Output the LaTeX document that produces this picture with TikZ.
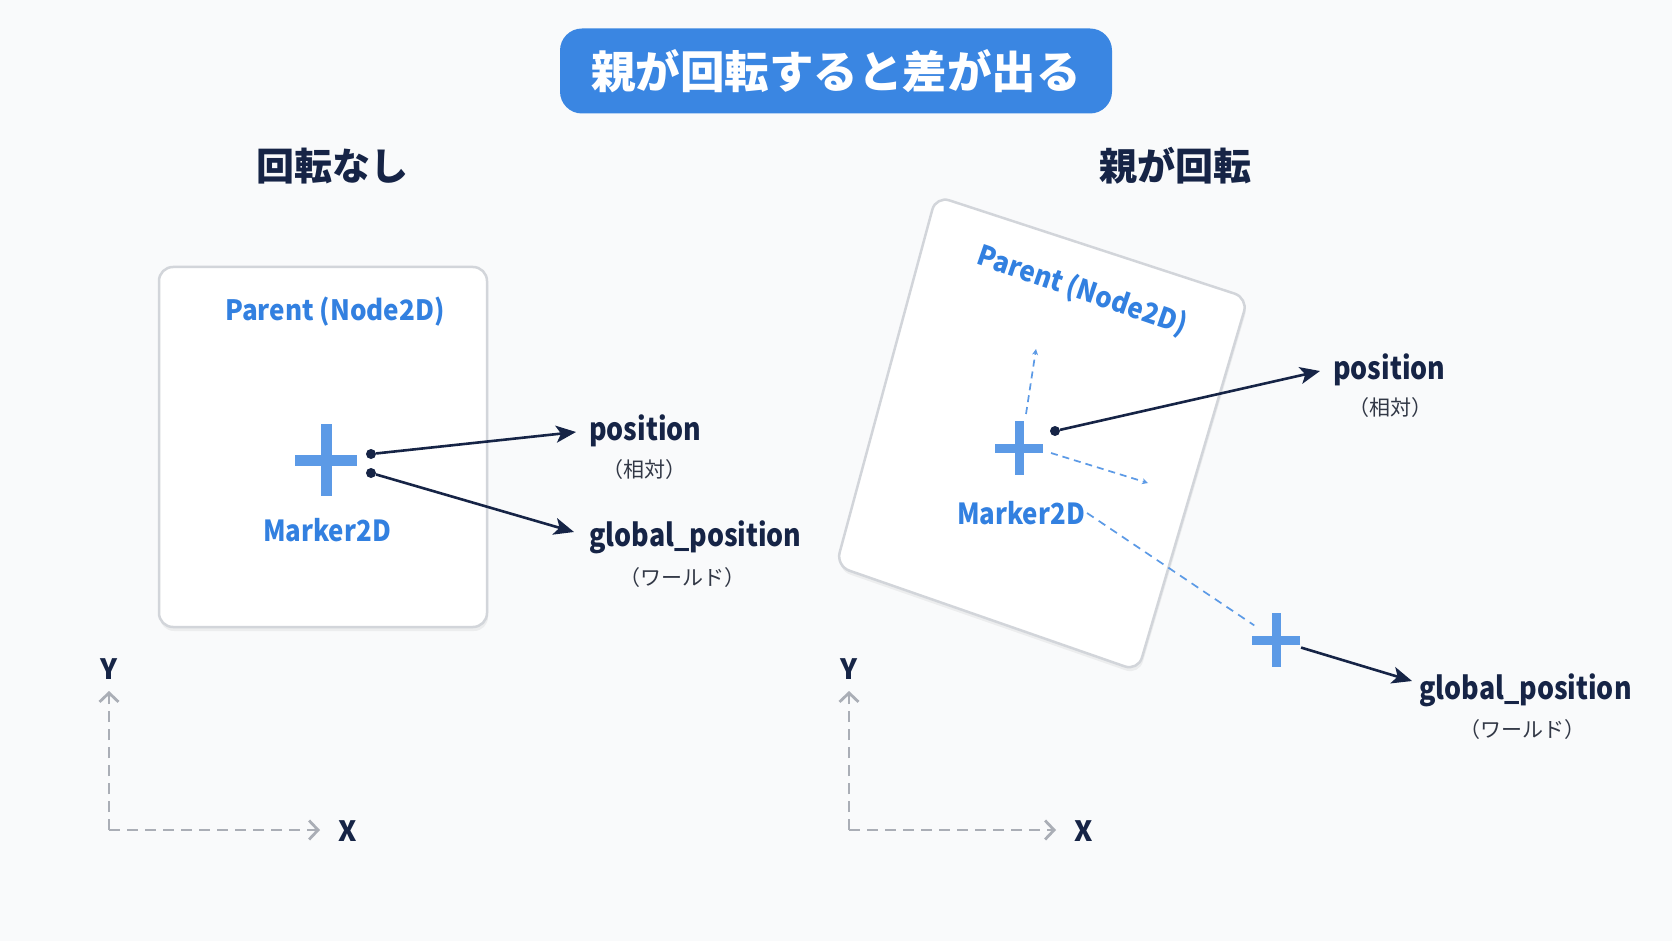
\documentclass[tikz,border=0pt]{standalone}
\usepackage{fontspec}
\usepackage{graphicx}
\setmainfont{Noto Sans CJK JP}
\usetikzlibrary{arrows.meta,shadows}
\definecolor{bg}{RGB}{249,250,251}
\definecolor{tblue}{RGB}{58,134,226}
\definecolor{lblue}{RGB}{50,128,224}
\definecolor{xblue}{RGB}{92,154,230}
\definecolor{navy}{RGB}{22,36,70}
\definecolor{axgray}{RGB}{170,174,182}
\definecolor{boxgray}{RGB}{210,213,218}
\definecolor{subgray}{RGB}{50,56,70}
\newcommand\sqzA[1]{\scalebox{0.865}[1]{#1}}
\newcommand\sqzB[1]{\scalebox{0.93}[1]{#1}}
\newcommand\sqzC[1]{\scalebox{0.89}[1]{#1}}
\tikzset{
  bigcross/.pic={\fill[xblue] (-31,-5.5) rectangle (31,5.5); \fill[xblue] (-5.5,-36) rectangle (5.5,36);},
  smallcross/.pic={\fill[xblue] (-24,-4.5) rectangle (24,4.5); \fill[xblue] (-4.5,-27) rectangle (4.5,27);}
}
\begin{document}
\begin{tikzpicture}[x=1pt,y=-1pt,
  panel/.style={draw=boxgray,line width=2.5pt,fill=white,rounded corners=14pt,
    drop shadow={shadow xshift=1pt,shadow yshift=-4pt,opacity=0.10}},
  titlebox/.style={fill=tblue,rounded corners=22pt,text=white,minimum width=552pt,minimum height=85pt,
    font=\fontsize{44.5}{46}\selectfont\bfseries},
  subtitle/.style={text=navy,font=\fontsize{38}{40}\selectfont\bfseries},
  parentlab/.style={text=lblue,inner sep=2pt,font=\fontsize{28}{30}\selectfont\bfseries},
  marklab/.style={text=lblue,inner sep=2pt,font=\fontsize{29}{31}\selectfont\bfseries},
  proplab/.style={text=navy,anchor=west,inner sep=0pt,font=\fontsize{31}{33}\selectfont\bfseries},
  notelab/.style={text=subgray,inner sep=0pt,font=\fontsize{21}{23}\selectfont},
  axlab/.style={text=navy,inner sep=0pt,font=\fontsize{28}{30}\selectfont\bfseries},
  dot/.style={circle,fill=navy,inner sep=0pt,minimum size=10pt},
  arr/.style={draw=navy,line width=2.6pt,-{Stealth[length=20pt,width=17pt,inset=5pt]}},
  axis/.style={draw=axgray,line width=2.4pt,dash pattern=on 11pt off 7pt,
    -{Straight Barb[length=9pt,width=19pt,line width=2.8pt]}},
  localax/.style={draw=xblue,line width=1.7pt,dash pattern=on 7pt off 5pt,-{Stealth[length=6pt,width=6pt]}},
  proj/.style={draw=xblue,line width=1.7pt,dash pattern=on 8pt off 6pt},
  crossnode/.style={circle,inner sep=0pt,minimum size=52pt}
]
\useasboundingbox (0,0) rectangle (1672,941);
\fill[bg] (0,0) rectangle (1672,941);

% title
\node[titlebox] (T) at (836,71) {親が回転すると差が出る};
\node[subtitle] (s1) at (332,166) {回転なし};
\node[subtitle] (s2) at (1175,166) {親が回転};

% ---------- left panel ----------
\node[panel,minimum width=328pt,minimum height=360pt] (B1) at (323,447) {};
\node[parentlab] (p1) at (335,312) {\sqzB{Parent (Node2D)}};
\pic at (326,460) {bigcross};
\node[marklab] (mk1) at (327,530) {\sqzC{Marker2D}};
\node[dot] (d1) at (371,454) {};
\node[dot] (d2) at (371,473) {};
\node[proplab] (pos1) at (589,431) {\sqzA{position}};
\node[notelab] (pos1j) at (644,470) {（相対）};
\node[proplab] (gp1) at (589,537) {\sqzA{global\_position}};
\node[notelab] (gp1j) at (682,578) {（ワールド）};
\coordinate (e1) at (576,432);
\coordinate (e2) at (574,532);
\draw[arr] (d1) -- (e1);
\draw[arr] (d2) -- (e2);

\coordinate (o1) at (109,830);
\coordinate (y1) at (109,691);
\coordinate (x1) at (320,830);
\draw[axis] (o1) -- (y1);
\draw[axis] (o1) -- (x1);
\node[axlab] (Y1) at (109,669) {Y};
\node[axlab] (X1) at (348,831) {X};

% ---------- right panel ----------
\coordinate (bTL) at (936,196);
\coordinate (bTR) at (1248,298);
\coordinate (bBR) at (1138,671);
\coordinate (bBL) at (836,566);
\draw[panel] (bTL) -- (bTR) -- (bBR) -- (bBL) -- cycle;
\node[parentlab,rotate=-19] (p2) at (1082,291) {\sqzB{Parent (Node2D)}};
\pic at (1019,448) {smallcross};
\coordinate (la1s) at (1026,414);
\coordinate (la1e) at (1036,349);
\coordinate (la2s) at (1051,453);
\coordinate (la2e) at (1148,483);
\draw[localax] (la1s) -- (la1e);
\draw[localax] (la2s) -- (la2e);
\node[marklab] (mk2) at (1021,513) {\sqzC{Marker2D}};
\node[dot] (d3) at (1055,431) {};
\node[proplab] (pos2) at (1333,370) {\sqzA{position}};
\node[notelab] (pos2j) at (1390,408) {（相対）};
\coordinate (e3) at (1320,371);
\draw[arr] (d3) -- (e3);

\node[crossnode] (m2) at (1276,640) {};
\pic at (1276,640) {smallcross};
\draw[proj] (mk2.east) -- (m2);
\node[proplab] (gp2) at (1419,690) {\sqzA{global\_position}};
\node[notelab] (gp2j) at (1522,730) {（ワールド）};
\coordinate (e4) at (1412,681);
\draw[arr] (m2) -- (e4);

\coordinate (o2) at (849,830);
\coordinate (y2) at (849,691);
\coordinate (x2) at (1056,830);
\draw[axis] (o2) -- (y2);
\draw[axis] (o2) -- (x2);
\node[axlab] (Y2) at (849,669) {Y};
\node[axlab] (X2) at (1084,831) {X};
\end{tikzpicture}
\end{document}
